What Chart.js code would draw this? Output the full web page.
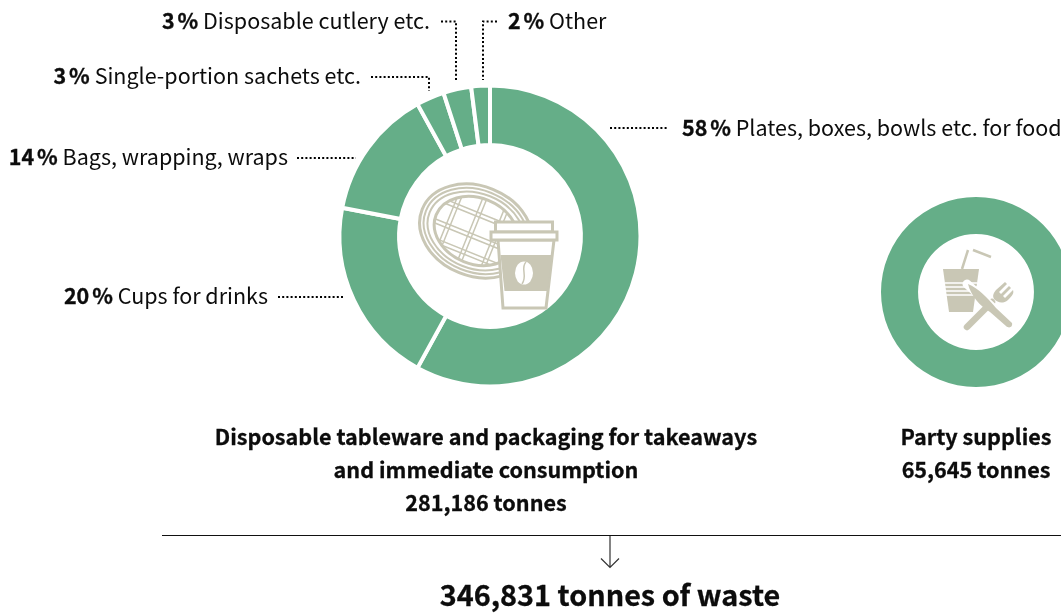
<!DOCTYPE html>
<html lang="en">
<head>
<meta charset="utf-8">
<title>Tonnes of waste</title>
<script src="https://cdn.jsdelivr.net/npm/chart.js@4"></script>
<style>
    html, body { margin: 0; padding: 0; background: #fff; }
    #page {
        position: relative; width: 1061px; height: 613px; overflow: hidden;
        font-family: "Noto Sans CJK SC", "Noto Sans", sans-serif; color: #0c0c0c;
    }
    #page canvas, #page svg { position: absolute; }
    .label, .title, .total { position: absolute; white-space: nowrap; }
    .label { font-size: 21.500px; line-height: 30px; }
    .label b, .title, .total { font-weight: 700; -webkit-text-stroke: 0.300px #0c0c0c; }
    .label i { font-style: normal; margin-left: 1.500px; }
    .title { font-size: 21.600px; line-height: 33px; text-align: center; }
    .total { font-size: 28.800px; line-height: 40px; }
    #main-wrap { position: absolute; left: 330px; top: 76px; width: 320px; height: 320px; }
    #party-wrap { position: absolute; left: 866px; top: 182px; width: 220px; height: 220px; }
</style>
</head>
<body>
<div id="page">
    <div id="main-wrap"><canvas id="mainChart"></canvas></div>
    <div id="party-wrap"><canvas id="partyChart"></canvas></div>

    <svg width="1061" height="613" viewBox="0 0 1061 613">
        <!-- dotted leaders -->
        <g fill="none" stroke="#000" stroke-width="2" stroke-dasharray="2 2.200">
            <path d="M610 128H668"/>
            <path d="M297 158H356"/>
            <path d="M278 297H344"/>
            <path d="M371 77H429V91"/>
            <path d="M441 21.500H456V80"/>
            <path d="M497 21.500H483V80"/>
        </g>

        <!-- rule and arrow -->
        <path d="M162 535.500H1061" stroke="#111" stroke-width="1.200" fill="none"/>
        <path d="M610 536V567M601 558.500L610 567.500L619 558.500" stroke="#333" stroke-width="1.200" fill="none"/>

        <!-- plate with waffle pattern -->
        <defs>
            <clipPath id="waffleClip"><ellipse cx="0" cy="0" rx="43" ry="33"/></clipPath>
        </defs>
        <g transform="translate(476 231) rotate(22)" fill="none" stroke="#c9c7b5">
            <ellipse rx="58" ry="45" stroke-width="3"/>
            <ellipse rx="54" ry="41" stroke-width="2"/>
            <ellipse rx="50" ry="37.500" stroke-width="2"/>
            <ellipse rx="43" ry="33" stroke-width="3"/>
            <g clip-path="url(#waffleClip)" stroke-width="1.500">
                <path d="M-30 -40V40M-26 -40V40M-6 -40V40M-2 -40V40M18 -40V40M22 -40V40"/>
                <path d="M-50 -18H50M-50 -14H50M-50 4H50M-50 8H50M-50 22H50M-50 26H50"/>
            </g>
        </g>

        <!-- takeaway cup -->
        <path d="M498 240H554L546 308H503Z" fill="#fff" stroke="#c9c7b5" stroke-width="3"/>
        <path d="M500.500 255H551.500L547.500 291H504.500Z" fill="#c9c7b5"/>
        <rect x="495.500" y="222" width="57" height="10" fill="#fff" stroke="#c9c7b5" stroke-width="3"/>
        <rect x="491" y="232" width="66" height="8" fill="#fff" stroke="#c9c7b5" stroke-width="3"/>
        <ellipse cx="524" cy="273" rx="9" ry="11.500" fill="#fff"/>
        <path d="M526 262C520 268 528 276 522 284" fill="none" stroke="#c9c7b5" stroke-width="1.500"/>

        <!-- party cup with straw -->
        <path d="M943 269H979L973 312H949Z" fill="#c9c7b5"/>
        <path d="M944.500 283H977.500M945 287H977M945.500 291H976.500M946 295H976" stroke="#fff" stroke-width="1.500"/>
        <path d="M962 269L968 250M973 250L991 257" fill="none" stroke="#c9c7b5" stroke-width="2.500"/>

        <!-- fork -->
        <path d="M967 327L998 296" stroke="#fff" stroke-width="10" stroke-linecap="round"/>
        <path d="M967 327L992 302" stroke="#c9c7b5" stroke-width="6.500" stroke-linecap="round"/>
        <path transform="translate(2 -3)" d="M992 302C990 298 992 296 994 293L1003 285L1005 287L997 295L999 297L1007 289L1009 291L1001 299L1003 301L1011 293C1012 296 1011 298 1006 303C1001 307 996 306 992 302Z" fill="#c9c7b5"/>

        <!-- knife -->
        <path d="M967 284L1011 324" stroke="#fff" stroke-width="9" stroke-linecap="round"/>
        <path d="M968 284C978 288 987 297 996 308L1012 323C1013 327 1009 329 1006 326L990 312C980 306 971 296 968 284Z" fill="#c9c7b5"/>
    </svg>
</div>

<script>
    // chart data
    const categories = ['Plates, boxes, bowls etc. for food', 'Cups for drinks', 'Bags, wrapping, wraps',
        'Single-portion sachets etc.', 'Disposable cutlery etc.', 'Other'];
    const shares = [58, 20, 14, 3, 3, 2];
    const partyLabels = ['Party supplies'];
    const partyValues = [65645];
    const titles = ['Disposable tableware and packaging for takeaways', 'and immediate consumption', '281,186 tonnes'];
    const partyTitles = ['Party supplies', '65,645 tonnes'];
    const totalText = '346,831 tonnes of waste';

    const green = '#65ae88';
    const page = document.getElementById('page');

    function addText(cls, css, html) {
        const el = document.createElement('div');
        el.className = cls;
        el.style.cssText = css;
        el.innerHTML = html;
        page.appendChild(el);
    }

    function labelHtml(i) {
        return '<b>' + shares[i] + '\u200a<i>%</i></b> ' + categories[i];
    }

    addText('label', 'left:682px;top:112px', labelHtml(0));
    addText('label', 'right:793px;top:280px', labelHtml(1));
    addText('label', 'right:773px;top:141px', labelHtml(2));
    addText('label', 'right:700px;top:60px', labelHtml(3));
    addText('label', 'right:631px;top:5px', labelHtml(4));
    addText('label', 'left:508px;top:5px', labelHtml(5));

    titles.forEach(function(t, i) {
        addText('title', 'left:186px;width:600px;top:' + (419 + i * 33) + 'px', t);
    });
    partyTitles.forEach(function(t, i) {
        addText('title', 'left:876px;width:200px;top:' + (419 + i * 33) + 'px', t);
    });
    addText('total', 'left:310px;width:600px;text-align:center;top:574px', totalText);

    const baseOptions = {
        responsive: true,
        maintainAspectRatio: false,
        animation: false,
        layout: { padding: 0 },
        plugins: { legend: { display: false }, tooltip: { enabled: false } }
    };

    new Chart(document.getElementById('mainChart'), {
        type: 'doughnut',
        data: {
            labels: categories,
            datasets: [{
                data: shares,
                backgroundColor: green,
                borderColor: '#fff',
                borderWidth: 4
            }]
        },
        // the white border eats 2px off each rim
        options: Object.assign({}, baseOptions, { radius: 150.5, cutout: '60.400%' })
    });

    new Chart(document.getElementById('partyChart'), {
        type: 'doughnut',
        data: {
            labels: partyLabels,
            datasets: [{
                data: partyValues,
                backgroundColor: green,
                borderWidth: 0
            }]
        },
        options: Object.assign({}, baseOptions, { radius: 95, cutout: '61%' })
    });
</script>
</body>
</html>
